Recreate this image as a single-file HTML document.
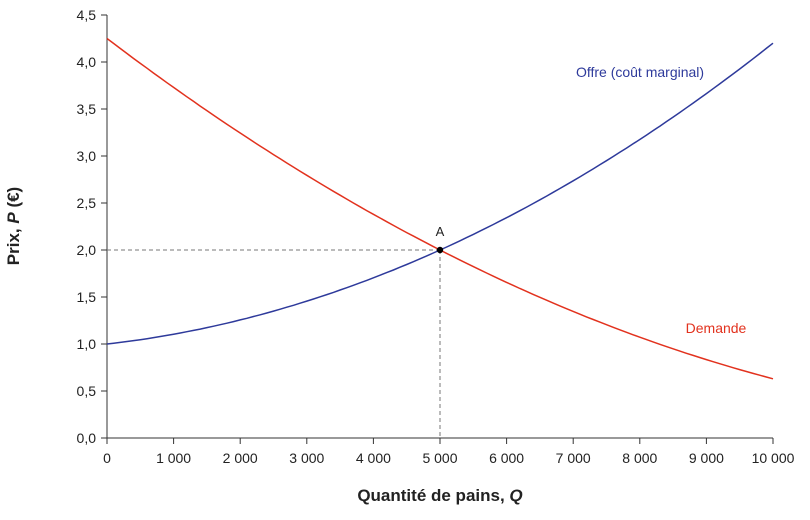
<!DOCTYPE html>
<html><head><meta charset="utf-8"><style>
body{margin:0;background:#fff;}
svg text{font-family:"Liberation Sans",sans-serif;fill:#222;}
</style></head><body>
<svg id="s" width="810" height="515" xmlns="http://www.w3.org/2000/svg">
<g id="g"></g>
<line x1="107" y1="438" x2="773" y2="438" stroke="#333" stroke-width="1"/>
<line x1="107" y1="15" x2="107" y2="438" stroke="#333" stroke-width="1"/>
<line x1="107" y1="250" x2="440" y2="250" stroke="#777" stroke-dasharray="4,3"/>
<line x1="440" y1="250" x2="440" y2="438" stroke="#777" stroke-dasharray="4,3"/>
<path id="sup" fill="none" stroke="#2e3a9b" stroke-width="1.5"/>
<path id="dem" fill="none" stroke="#e2321e" stroke-width="1.5"/>
<circle cx="440" cy="250" r="3.2" fill="#000"/>
<text x="440" y="236" font-size="13" text-anchor="middle">A</text>
<text x="640" y="77" font-size="14" text-anchor="middle" style="fill:#2e3a9b">Offre (coût marginal)</text>
<text x="716" y="333" font-size="14" text-anchor="middle" style="fill:#e2321e">Demande</text>
<text x="440" y="501" font-size="17" font-weight="bold" text-anchor="middle">Quantité de pains, <tspan font-style="italic">Q</tspan></text>
<text transform="translate(19,226) rotate(-90)" font-size="17" font-weight="bold" text-anchor="middle">Prix, <tspan font-style="italic">P</tspan> (€)</text>
</svg>
<script>
var g=document.getElementById('g'),h='';
var X=function(q){return 107+q*66.6},Y=function(p){return 438-p*94};
for(var i=0;i<=9;i++){var p=i*0.5,y=Y(p);h+='<line x1="101" y1="'+y+'" x2="107" y2="'+y+'" stroke="#333"/><text x="96" y="'+(y+5)+'" font-size="14" text-anchor="end">'+p.toFixed(1).replace('.',',')+'</text>';}
for(var i=0;i<=10;i++){var x=X(i);h+='<line x1="'+x+'" y1="438" x2="'+x+'" y2="444" stroke="#333"/><text x="'+x+'" y="463" font-size="14" text-anchor="middle">'+(i==0?'0':(i*1000).toString().replace(/(\d)(?=(\d{3})$)/,'$1 '))+'</text>';}
g.innerHTML=h;
var s='',d='';
for(var q=0;q<=10.0001;q+=0.1){s+=(q?'L':'M')+X(q).toFixed(1)+','+Y(1+0.08*q+0.024*q*q).toFixed(1);d+=(q?'L':'M')+X(q).toFixed(1)+','+Y(4.25-0.538*q+0.0176*q*q).toFixed(1);}
document.getElementById('sup').setAttribute('d',s);document.getElementById('dem').setAttribute('d',d);
</script>
</body></html>
